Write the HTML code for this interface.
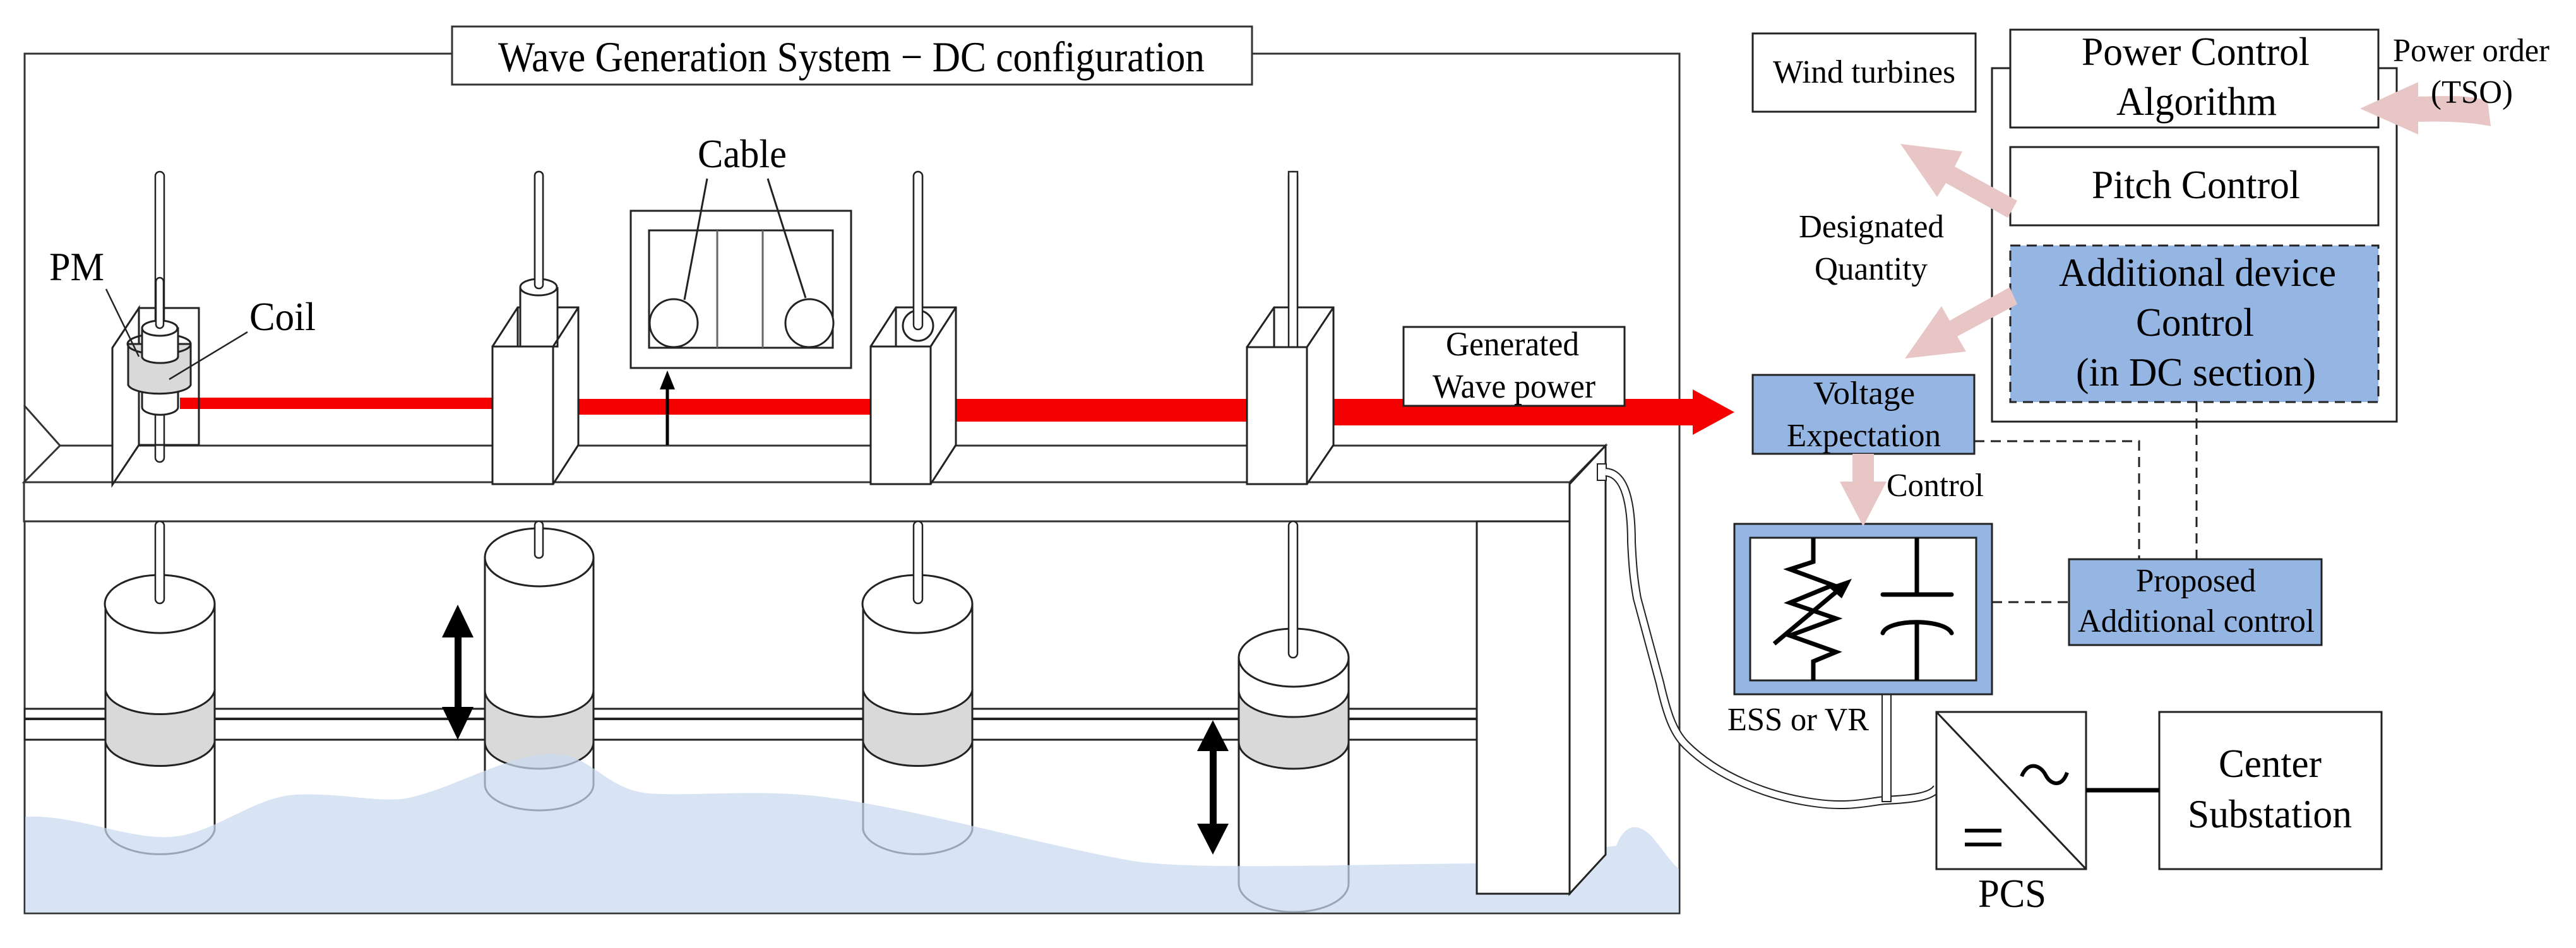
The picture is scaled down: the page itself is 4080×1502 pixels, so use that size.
<!DOCTYPE html>
<html><head><meta charset="utf-8">
<style>html,body{margin:0;padding:0;background:#fff;}svg{display:block;}
svg, svg text{font-family:"Liberation Serif","Times New Roman",Times,"DejaVu Serif",serif !important;}</style>
</head><body>
<svg xmlns="http://www.w3.org/2000/svg" width="4080" height="1502" viewBox="0 0 4080 1502" style="font-family:'Liberation Serif','Times New Roman',Times,serif">
<rect width="4080" height="1502" fill="#fff"/>
<rect x="39" y="85" width="2621" height="1362" fill="#fff" stroke="#333" stroke-width="3"/>

<g stroke="#333" stroke-width="3" fill="#fff">
<polygon points="38,764 95,706 2543,706 2486,764"/>
<rect x="38" y="764" width="2448" height="62"/>
<line x1="38" y1="642" x2="95" y2="706"/>
</g>
<g stroke="#222" fill="#fff">
<rect x="39" y="1123" width="2300" height="49" stroke-width="3"/>
<line x1="39" y1="1139" x2="2339" y2="1139" stroke-width="4"/>
</g>

<g fill="#f50000">
<rect x="285" y="630" width="500" height="18"/>
<rect x="915" y="632" width="470" height="25"/>
<rect x="1470" y="632" width="510" height="36"/>
<rect x="2070" y="632" width="615" height="42"/>
<polygon points="2681,617 2747,653 2681,689"/>
</g>

<g fill="#fff" stroke="#222" stroke-width="2.5">
<rect x="246" y="272" width="14" height="460" rx="7"/>
<rect x="847" y="272" width="13" height="190" rx="6"/>
<rect x="1447" y="272" width="14" height="250" rx="7"/>
<rect x="2041" y="272" width="14" height="290" rx="7"/>
</g>

<g stroke="#222" stroke-width="3" fill="#fff">
<rect x="220" y="488" width="95" height="217" fill="none"/>
<polygon points="178,551 220,488 220,705 178,768" fill="#fff"/>
<line x1="178" y1="551" x2="178" y2="768"/>
<path d="M225 600 L225 645 A28 12 0 0 0 282 645 L282 600 Z"/>
<path d="M203 545 L203 610 A50 16 0 0 0 302 610 L302 545 Z" fill="#d9d9d9"/>
<ellipse cx="252" cy="545" rx="50" ry="16" fill="none"/>
<path d="M225 520 L225 565 A28 10 0 0 0 282 565 L282 520 Z"/>
<ellipse cx="253" cy="520" rx="28" ry="12"/>
<rect x="247" y="440" width="12" height="80" rx="6" stroke-width="2.5"/>
</g>

<g stroke="#222" stroke-width="3" fill="#fff">
<polygon points="780,549 820,487 916,487 916,705 876,767 780,767"/>
<path d="M824 455 L824 549 L883 549 L883 455" />
<ellipse cx="853" cy="455" rx="29" ry="13"/>
<rect x="847" y="272" width="13" height="185" rx="6" stroke-width="2.5"/>
<line x1="820" y1="487" x2="820" y2="549"/>
<rect x="780" y="549" width="96" height="218"/>
<line x1="876" y1="549" x2="916" y2="487"/>
<polygon points="1379,549 1419,487 1514,487 1514,705 1474,767 1379,767"/>
<line x1="1419" y1="487" x2="1419" y2="549"/>
<circle cx="1454" cy="516" r="24"/>
<rect x="1447" y="272" width="14" height="250" rx="7" stroke-width="2.5"/>
<rect x="1379" y="549" width="95" height="218"/>
<line x1="1474" y1="549" x2="1514" y2="487"/>
<polygon points="1975,550 2018,487 2112,487 2112,705 2070,767 1975,767"/>
<line x1="2018" y1="487" x2="2018" y2="550"/>
<rect x="2041" y="272" width="14" height="280" stroke-width="2.5"/>
<rect x="1975" y="550" width="95" height="217"/>
<line x1="2070" y1="550" x2="2112" y2="487"/>
</g>

<g stroke="#222" stroke-width="3" fill="#fff">
<rect x="999" y="334" width="349" height="249"/>
<rect x="1028" y="365" width="291" height="186"/>
<line x1="1136" y1="365" x2="1136" y2="551" stroke="#666"/>
<line x1="1208" y1="365" x2="1208" y2="551" stroke="#666"/>
<circle cx="1067" cy="512" r="38"/>
<circle cx="1282" cy="512" r="38"/>
<line x1="1120" y1="283" x2="1084" y2="475" fill="none"/>
<line x1="1216" y1="283" x2="1276" y2="472" fill="none"/>
</g>
<line x1="1057" y1="705" x2="1057" y2="612" stroke="#000" stroke-width="5"/>
<polygon points="1045,617 1057,587 1069,617" fill="#000"/>

<line x1="168" y1="458" x2="220" y2="565" stroke="#222" stroke-width="2.5"/>
<line x1="392" y1="526" x2="268" y2="601" stroke="#222" stroke-width="2.5"/>

<rect x="2223" y="518" width="350" height="125" fill="#fff" stroke="#222" stroke-width="3"/>

<g stroke="#222" stroke-width="3">
<path d="M167 957 L167 1315 A87 43 0 0 0 340 1315 L340 957 Z" fill="#fff"/>
<path d="M167 1094 A87 42 0 0 0 340 1094 L340 1176 A87 42 0 0 1 167 1176 Z" fill="#d9d9d9"/>
<ellipse cx="253" cy="957" rx="87" ry="46" fill="#fff"/>
<path d="M768 883 L768 1243 A86 41 0 0 0 940 1243 L940 883 Z" fill="#fff"/>
<path d="M768 1094 A86 42 0 0 0 940 1094 L940 1176 A86 42 0 0 1 768 1176 Z" fill="#d9d9d9"/>
<ellipse cx="854" cy="883" rx="86" ry="46" fill="#fff"/>
<path d="M1367 957 L1367 1315 A87 43 0 0 0 1540 1315 L1540 957 Z" fill="#fff"/>
<path d="M1367 1094 A87 42 0 0 0 1540 1094 L1540 1176 A87 42 0 0 1 1367 1176 Z" fill="#d9d9d9"/>
<ellipse cx="1453" cy="957" rx="87" ry="46" fill="#fff"/>
<path d="M1962 1042 L1962 1400 A87 45 0 0 0 2136 1400 L2136 1042 Z" fill="#fff"/>
<path d="M1962 1094 A87 42 0 0 0 2136 1094 L2136 1176 A87 42 0 0 1 1962 1176 Z" fill="#d9d9d9"/>
<ellipse cx="2049" cy="1042" rx="87" ry="46" fill="#fff"/>
</g>
<g fill="#fff" stroke="#222" stroke-width="2.5">
<rect x="246" y="826" width="14" height="130" rx="7"/>
<rect x="847" y="826" width="13" height="58" rx="6"/>
<rect x="1447" y="826" width="14" height="130" rx="7"/>
<rect x="2041" y="826" width="14" height="216" rx="7"/>
</g>

<path d="M40 1294 C120 1290 200 1330 270 1326 C340 1322 400 1262 470 1259 C540 1256 600 1272 643 1265 C720 1250 810 1190 884 1195 C940 1200 960 1250 1027 1257 C1100 1262 1200 1250 1300 1262 C1450 1280 1650 1340 1800 1365 C1900 1378 2100 1370 2339 1368 L2560 1340 C2575 1300 2600 1305 2620 1330 C2640 1355 2650 1370 2659 1376 L2659 1446 L40 1446 Z" fill="#c9d9ee" fill-opacity="0.72"/>

<g stroke="#222" stroke-width="3" fill="#fff">
<polygon points="2486,767 2543,706 2543,1354 2486,1416"/>
<rect x="2339" y="826" width="147" height="590"/>
</g>
<rect x="2530" y="735" width="14" height="26" fill="#fff" stroke="#222" stroke-width="2"/>

<g fill="#000">
<rect x="720" y="1000" width="11" height="130"/>
<polygon points="725,958 700,1010 750,1010"/>
<polygon points="725,1172 700,1120 750,1120"/>
<rect x="1916" y="1180" width="11" height="130"/>
<polygon points="1921,1141 1896,1190 1946,1190"/>
<polygon points="1921,1354 1896,1305 1946,1305"/>
</g>

<path d="M2543 748 C2575 750 2584 800 2584 859 C2586 900 2588 920 2593 948 L2629 1082 C2640 1130 2650 1160 2670 1180 C2720 1230 2800 1262 2874 1272 C2930 1280 2960 1270 2986 1268 C3030 1266 3060 1262 3068 1248" fill="none" stroke="#222" stroke-width="14"/>
<path d="M2543 748 C2575 750 2584 800 2584 859 C2586 900 2588 920 2593 948 L2629 1082 C2640 1130 2650 1160 2670 1180 C2720 1230 2800 1262 2874 1272 C2930 1280 2960 1270 2986 1268 C3030 1266 3060 1262 3068 1248" fill="none" stroke="#fff" stroke-width="10"/>
<rect x="2981" y="1100" width="14" height="170" fill="#fff" stroke="#222" stroke-width="2"/>

<rect x="716" y="42" width="1267" height="92" fill="#fff" stroke="#333" stroke-width="3"/>
<g style="font-family:'Liberation Serif','Times New Roman',Times,serif">
<text x="789" y="113" font-size="68" textLength="1119" lengthAdjust="spacingAndGlyphs">Wave Generation System − DC configuration</text>
</g>

<g font-size="64" style="font-family:'Liberation Serif','Times New Roman',Times,serif">
<text x="78" y="444" textLength="87" lengthAdjust="spacingAndGlyphs">PM</text>
<text x="395" y="523" textLength="105" lengthAdjust="spacingAndGlyphs">Coil</text>
<text x="1105" y="265" textLength="141" lengthAdjust="spacingAndGlyphs">Cable</text>
</g>
<g font-size="54" style="font-family:'Liberation Serif','Times New Roman',Times,serif">
<text x="2290" y="563" textLength="211" lengthAdjust="spacingAndGlyphs">Generated</text>
<text x="2269" y="630" textLength="258" lengthAdjust="spacingAndGlyphs">Wave power</text>
</g>

<g stroke="#222" stroke-width="3">
<rect x="3155" y="108" width="641" height="560" fill="#fff"/>
<rect x="2776" y="53" width="353" height="124" fill="#fff"/>
<rect x="3184" y="47" width="583" height="155" fill="#fff"/>
<rect x="3184" y="233" width="583" height="124" fill="#fff"/>
<rect x="3184" y="389" width="583" height="248" fill="#95b5e3" stroke-dasharray="16,10"/>
<rect x="2776" y="594" width="351" height="125" fill="#95b5e3"/>
<rect x="3277" y="886" width="400" height="136" fill="#95b5e3"/>
<rect x="2747" y="830" width="408" height="270" fill="#95b5e3"/>
<rect x="2772" y="852" width="358" height="226" fill="#fff"/>
<rect x="3067" y="1128" width="237" height="249" fill="#fff"/>
<rect x="3420" y="1128" width="352" height="249" fill="#fff"/>
<line x1="3067" y1="1128" x2="3304" y2="1377"/>
</g>
<g stroke="#222" stroke-width="3" stroke-dasharray="16,10" fill="none">
<polyline points="3127,699 3388,699 3388,886"/>
<line x1="3479" y1="637" x2="3479" y2="886"/>
<line x1="3155" y1="954" x2="3277" y2="954"/>
</g>
<line x1="3304" y1="1252" x2="3420" y2="1252" stroke="#000" stroke-width="7"/>
<path d="M3202 1230 C3212 1205 3232 1212 3240 1228 C3248 1244 3266 1248 3274 1224" fill="none" stroke="#000" stroke-width="6"/>
<line x1="3112" y1="1316" x2="3170" y2="1316" stroke="#000" stroke-width="6"/>
<line x1="3112" y1="1338" x2="3170" y2="1338" stroke="#000" stroke-width="6"/>

<g stroke="#000" stroke-width="7" fill="none">
<polyline points="2872,852 2872,890 2835,902 2903,927 2835,955 2908,980 2835,1007 2908,1033 2872,1048 2872,1078"/>
<line x1="2810" y1="1020" x2="2920" y2="928"/>
<line x1="3036" y1="852" x2="3036" y2="942"/>
<line x1="2982" y1="942" x2="3091" y2="942" stroke-linecap="round"/>
<path d="M2982 1003 C2990 980 3080 980 3091 1003" stroke-linecap="round"/>
<line x1="3036" y1="985" x2="3036" y2="1078"/>
</g>
<polygon points="2933,917 2896,930 2917,948" fill="#000"/>

<g fill="#e8c6c6">
<path d="M3738 172 L3830 130 L3830 153 C3880 152 3910 150 3940 160 L3945 200 C3910 193 3870 192 3830 193 L3830 213 Z"/>
<polygon points="3010,228 3108,240 3096,264 3195,318 3180,345 3082,290 3068,312"/>
<polygon points="3017,568 3114,557 3100,533 3195,482 3183,455 3088,508 3075,485"/>
<polygon points="2934,719 2968,719 2968,763 2988,763 2951,834 2914,763 2934,763"/>
</g>

<g font-size="52" style="font-family:'Liberation Serif','Times New Roman',Times,serif">
<text x="2808" y="131" textLength="289" lengthAdjust="spacingAndGlyphs">Wind turbines</text>
<text x="3790" y="97" textLength="248" lengthAdjust="spacingAndGlyphs">Power order</text>
<text x="3850" y="163" textLength="130" lengthAdjust="spacingAndGlyphs">(TSO)</text>
<text x="2849" y="376" textLength="230" lengthAdjust="spacingAndGlyphs">Designated</text>
<text x="2874" y="443" textLength="179" lengthAdjust="spacingAndGlyphs">Quantity</text>
<text x="2872" y="640" textLength="161" lengthAdjust="spacingAndGlyphs">Voltage</text>
<text x="2830" y="707" textLength="244" lengthAdjust="spacingAndGlyphs">Expectation</text>
<text x="2988" y="786" textLength="154" lengthAdjust="spacingAndGlyphs">Control</text>
<text x="2736" y="1157" textLength="224" lengthAdjust="spacingAndGlyphs">ESS or VR</text>
<text x="3383" y="937" textLength="190" lengthAdjust="spacingAndGlyphs">Proposed</text>
<text x="3291" y="1001" textLength="375" lengthAdjust="spacingAndGlyphs">Additional control</text>
</g>
<g font-size="64" style="font-family:'Liberation Serif','Times New Roman',Times,serif">
<text x="3297" y="103" textLength="361" lengthAdjust="spacingAndGlyphs">Power Control</text>
<text x="3352" y="182" textLength="254" lengthAdjust="spacingAndGlyphs">Algorithm</text>
<text x="3313" y="314" textLength="330" lengthAdjust="spacingAndGlyphs">Pitch Control</text>
<text x="3261" y="453" textLength="439" lengthAdjust="spacingAndGlyphs">Additional device</text>
<text x="3383" y="532" textLength="187" lengthAdjust="spacingAndGlyphs">Control</text>
<text x="3288" y="611" textLength="380" lengthAdjust="spacingAndGlyphs">(in DC section)</text>
<text x="3514" y="1231" textLength="163" lengthAdjust="spacingAndGlyphs">Center</text>
<text x="3465" y="1311" textLength="260" lengthAdjust="spacingAndGlyphs">Substation</text>
<text x="3133" y="1437" textLength="108" lengthAdjust="spacingAndGlyphs">PCS</text>
</g>
</svg>
</body></html>
